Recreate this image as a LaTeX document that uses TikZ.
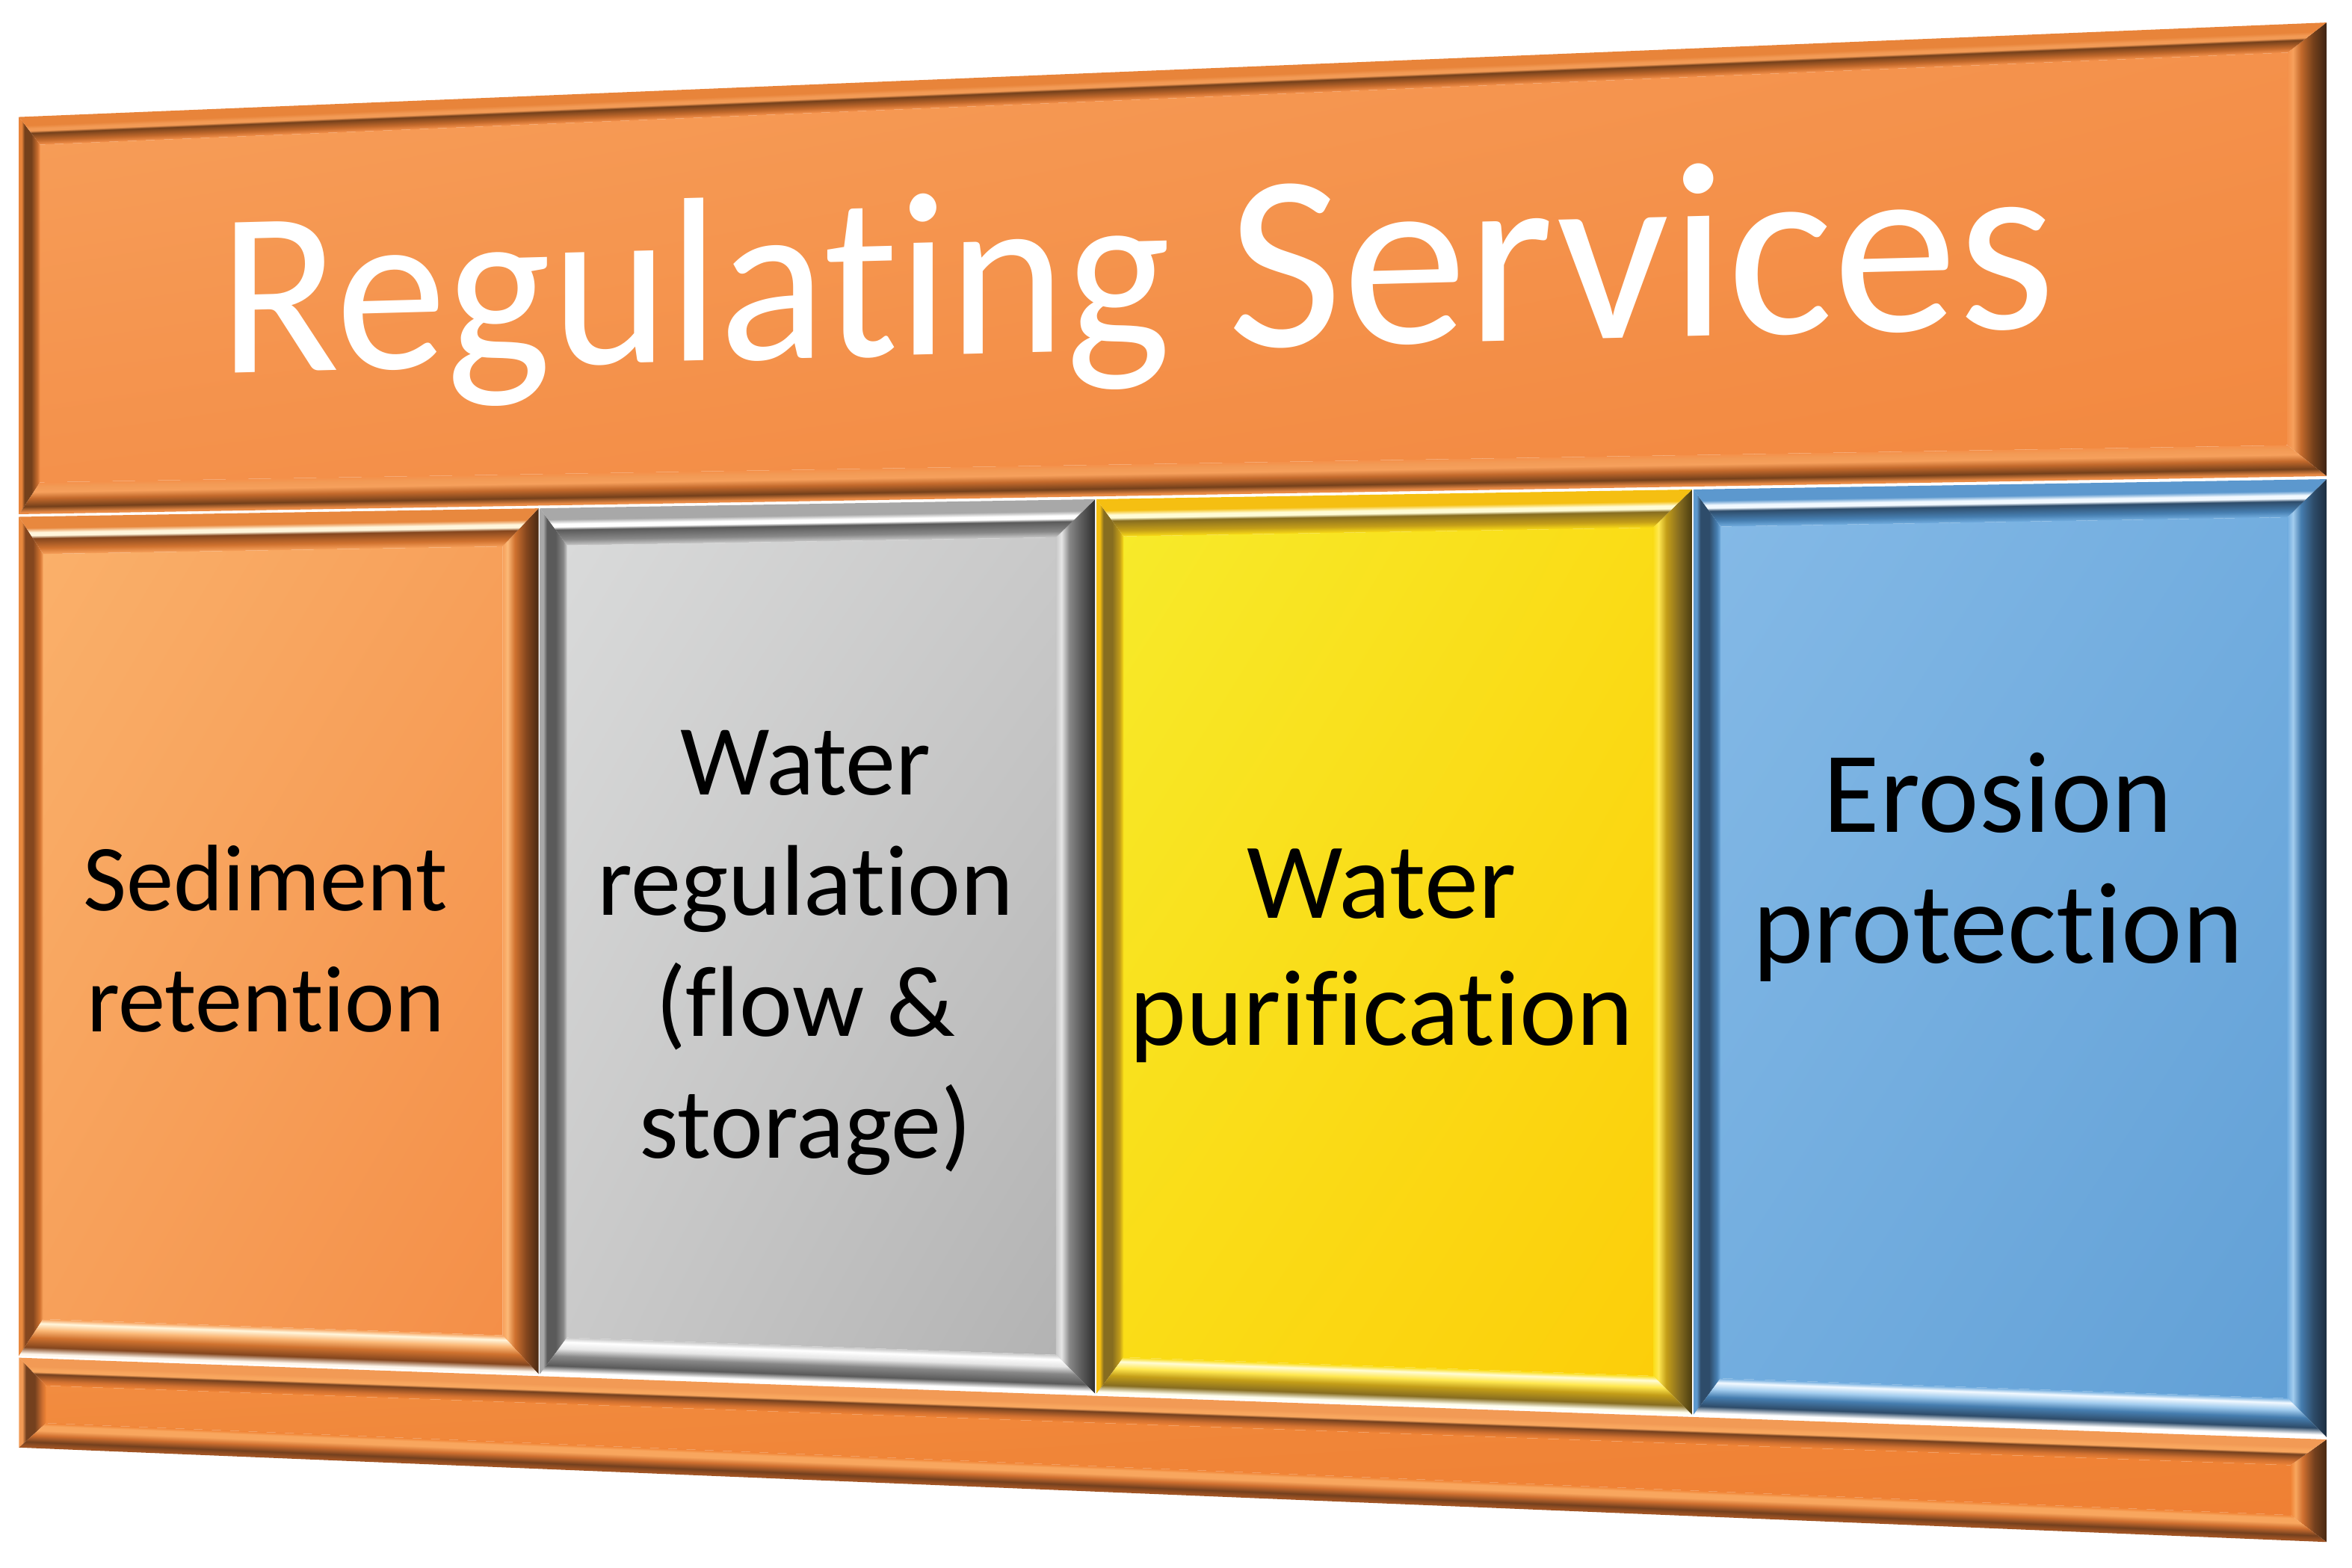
\documentclass[tikz,border=0pt]{standalone}
\usepackage{fontspec}
\setmainfont[Ligatures=NoCommon]{Carlito}
\usetikzlibrary{shadings}
\pgfmathdeclarefunction{Yp}{2}{\pgfmathparse{521.5+(#2)*(443.5+0.040955*((#1)-12.7))}}
\newcommand\hc[2]{\definecolor{#1}{HTML}{#2}}
% banner
\hc{banface}{F4914B}\hc{banful}{F79F5A}\hc{banflr}{F2883F}\hc{banrim}{E8843A}\hc{banhi}{F29A55}
\hc{banlite}{F6A05C}\hc{bandark}{74401B}\hc{banxdark}{3E2414}\hc{banmid}{C46A2C}\hc{banedge}{E88A45}
% sediment
\hc{sedface}{F7A05A}\hc{sedful}{FAB06A}\hc{sedflr}{F48F48}\hc{sedrim}{E8883E}\hc{sedhi}{FFF6DC}
\hc{sedlite}{FBB877}\hc{seddark}{84461E}\hc{sedxdark}{4A2A12}\hc{sedmid}{D0722F}\hc{sededge}{FFF8EE}
% gray
\hc{gryface}{C9C9C9}\hc{gryful}{D9DADA}\hc{gryflr}{B3B3B3}\hc{gryrim}{A8A8A8}\hc{gryhi}{FFFFFF}
\hc{grylite}{E6E6E6}\hc{grydark}{5A5A5A}\hc{gryxdark}{2E2E2E}\hc{grymid}{888888}\hc{gryedge}{FFFFFF}
% yellow
\hc{yelface}{FADC16}\hc{yelful}{F7EA2A}\hc{yelflr}{FCCE0A}\hc{yelrim}{F5BF12}\hc{yelhi}{FFFCD6}
\hc{yellite}{FFE850}\hc{yeldark}{876D20}\hc{yelxdark}{4A3C10}\hc{yelmid}{C49E18}\hc{yeledge}{FFFFF0}
% blue
\hc{bluface}{72ADDF}\hc{bluful}{84B9E6}\hc{bluflr}{62A0D6}\hc{blurim}{5C98CE}\hc{bluhi}{F2F9FF}
\hc{blulite}{A2CCEE}\hc{bludark}{2E4C6A}\hc{bluxdark}{1C2E40}\hc{blumid}{467EB0}\hc{bluedge}{FFFFFF}
% bottom bar
\hc{barface}{F08436}\hc{barful}{F28C40}\hc{barflr}{EF8034}\hc{barrim}{F29A55}\hc{barhi}{F8A65E}
\hc{barlite}{F8A65E}\hc{bardark}{74401E}\hc{barxdark}{4A2A12}\hc{barmid}{D07030}\hc{baredge}{A05424}

\newcommand\mkfam[1]{%
 \pgfdeclareverticalshading{#1T}{100bp}{color(0bp)=(#1face); color(25bp)=(#1face); color(33bp)=(#1mid); color(46bp)=(#1dark); color(50bp)=(#1hi); color(54bp)=(#1hi); color(60bp)=(#1rim); color(75bp)=(#1rim); color(100bp)=(#1rim)}%
 \pgfdeclareverticalshading{#1B}{100bp}{color(0bp)=(#1edge); color(25bp)=(#1edge); color(28bp)=(#1edge); color(37bp)=(#1dark); color(50bp)=(#1mid); color(60bp)=(#1lite); color(69bp)=(#1hi); color(75bp)=(#1face); color(100bp)=(#1face)}%
 \pgfdeclarehorizontalshading{#1L}{100bp}{color(0bp)=(#1rim); color(25bp)=(#1rim); color(31bp)=(#1rim); color(38bp)=(#1dark); color(54bp)=(#1dark); color(68bp)=(#1mid); color(75bp)=(#1face); color(100bp)=(#1face)}%
 \pgfdeclarehorizontalshading{#1R}{100bp}{color(0bp)=(#1face); color(25bp)=(#1face); color(32bp)=(#1lite); color(42bp)=(#1mid); color(58bp)=(#1dark); color(75bp)=(#1xdark); color(100bp)=(#1xdark)}%
}
\mkfam{ban}\mkfam{sed}\mkfam{gry}\mkfam{yel}\mkfam{blu}\mkfam{bar}

% #1 x1, #2 x2, #3 s top, #4 s bottom, #5 family, #6 left bevel, #7 right bevel, #8 top bevel, #9 bottom bevel
\newcommand\bpanel[9]{%
 \pgfmathsetmacro\XA{#1}%
 \pgfmathsetmacro\XB{#2}%
 \pgfmathsetmacro\XAi{#1+#6}%
 \pgfmathsetmacro\XBi{#2-#7}%
 \pgfmathsetmacro\TA{Yp(#1,#3)}%
 \pgfmathsetmacro\TB{Yp(#2,#3)}%
 \pgfmathsetmacro\TAi{Yp(\XAi,#3)+#8}%
 \pgfmathsetmacro\TBi{Yp(\XBi,#3)+#8}%
 \pgfmathsetmacro\BA{Yp(#1,#4)}%
 \pgfmathsetmacro\BB{Yp(#2,#4)}%
 \pgfmathsetmacro\BAi{Yp(\XAi,#4)-#9}%
 \pgfmathsetmacro\BBi{Yp(\XBi,#4)-#9}%
 \pgfmathsetmacro\PT{Yp(0,#3)}%
 \pgfmathsetmacro\PB{Yp(0,#4)}%
 \pgfmathsetmacro\fT{-(#3)*0.040955}%
 \pgfmathsetmacro\fB{-(#4)*0.040955}%
 \shade[upper left=#5ful, upper right=#5face, lower left=#5face, lower right=#5flr]
   (\XAi,\TAi) -- (\XBi,\TBi) -- (\XBi,\BBi) -- (\XAi,\BAi) -- cycle;
 \shade[shading=#5L] (\XA,\TA) -- (\XAi,\TAi) -- (\XAi,\BAi) -- (\XA,\BA) -- cycle;
 \shade[shading=#5R] (\XBi,\TBi) -- (\XB,\TB) -- (\XB,\BB) -- (\XBi,\BBi) -- cycle;
 \begin{scope}[transform canvas={yslant=\fT}]
  \shade[shading=#5T] (\XA,\PT) -- (\XB,\PT) -- (\XBi,\PT+#8) -- (\XAi,\PT+#8) -- cycle;
 \end{scope}
 \begin{scope}[transform canvas={yslant=\fB}]
  \shade[shading=#5B] (\XAi,\PB-#9) -- (\XBi,\PB-#9) -- (\XB,\PB) -- (\XA,\PB) -- cycle;
 \end{scope}
}

\tikzset{
 paneltext/.style={anchor=base, inner sep=0pt, text=black},
 titletext/.style={anchor=base west, inner sep=0pt, text=white, transform shape}
}

\begin{document}
\begin{tikzpicture}[x=1pt,y=-1pt]
\fill[white] (0,0) rectangle (1568,1045);
\useasboundingbox (0,0) rectangle (1568,1045);

% banner and bottom bar
\bpanel{12.7}{1551}{-1}{-0.403}{ban}{14}{26}{19}{21}
\bpanel{12.7}{1551}{0.865}{1}{bar}{18}{24}{18}{17}

% four panels
\bpanel{12.7}{359}{-0.399}{0.862}{sed}{16}{24}{25}{25}
\bpanel{360}{730}{-0.399}{0.862}{gry}{18}{26}{25}{25}
\bpanel{731}{1128}{-0.399}{0.862}{yel}{18}{26}{25}{25}
\bpanel{1129}{1551}{-0.399}{0.862}{blu}{18}{26}{25}{25}

% title
\begin{scope}[shift={(146,249)}]
 \node[titletext, xscale=0.95, yslant=0.025, font=\fontsize{156}{180}\selectfont] (t1) at (0,0) {Regulating};
\end{scope}
\begin{scope}[shift={(818,232)}]
 \node[titletext, yslant=0.025, font=\fontsize{167}{195}\selectfont] (t2) at (0,0) {Services};
\end{scope}

% panel texts
\node[paneltext, font=\fontsize{63}{77}\selectfont] (a1) at (177,607) {Sediment};
\node[paneltext, font=\fontsize{63}{77}\selectfont] (a2) at (177,688) {retention};

\node[paneltext, font=\fontsize{67}{80}\selectfont] (b1) at (537,530) {Water};
\node[paneltext, font=\fontsize{67}{80}\selectfont] (b2) at (537,610) {regulation};
\node[paneltext, font=\fontsize{67}{80}\selectfont] (b3) at (537,691) {(flow \&};
\node[paneltext, font=\fontsize{67}{80}\selectfont] (b4) at (537,772) {storage)};

\node[paneltext, font=\fontsize{72}{86}\selectfont] (c1) at (921,612) {Water};
\node[paneltext, font=\fontsize{72}{86}\selectfont] (c2) at (921,697) {purification};

\node[paneltext, font=\fontsize{77}{90}\selectfont] (d1) at (1332,555) {Erosion};
\node[paneltext, font=\fontsize{77}{90}\selectfont] (d2) at (1332,642) {protection};
\end{tikzpicture}
\end{document}
